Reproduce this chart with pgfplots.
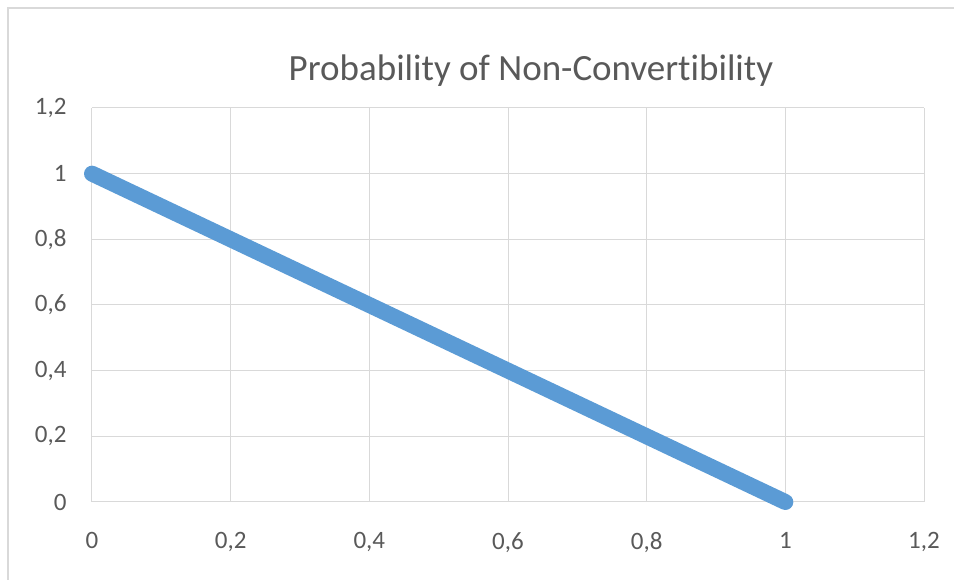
\documentclass[border=0pt]{standalone}
\usepackage{fontspec}
\setmainfont[Ligatures=NoCommon]{Carlito}
\usepackage{pgfplots}
\pgfplotsset{compat=1.18}
\definecolor{xlblue}{HTML}{5B9BD5}
\definecolor{xlgrid}{HTML}{D9D9D9}
\definecolor{xltext}{HTML}{595959}

\begin{document}
\begin{tikzpicture}[x=1pt,y=1pt]
\useasboundingbox (-92,-78) rectangle (862,502);
\draw[xlgrid, line width=1.2pt] (-84,-80) -- (-84,494) -- (864,494);
\node[text=xltext, font=\fontsize{37}{44}\selectfont] at (439,431) {Probability of Non-Convertibility};
\begin{axis}[
    at={(0,0)}, anchor=origin,
    scale only axis,
    width=832pt, height=394pt,
    xmin=0, xmax=1.2, ymin=0, ymax=1.2,
    xtick={0,0.2,0.4,0.6,0.8,1,1.2},
    ytick={0,0.2,0.4,0.6,0.8,1,1.2},
    axis line style={draw=none},
    major tick length=0pt,
    grid=major,
    grid style={xlgrid, line width=1pt},
    tick label style={text=xltext, font=\fontsize{25}{30}\selectfont},
    /pgf/number format/assume math mode=true,
    /pgf/number format/use comma,
    /pgf/number format/fixed,
    xticklabel style={yshift=-27pt},
    yticklabel style={xshift=-22pt},
    clip=false,
]
\addplot[xlblue, line width=16pt, line cap=round, line join=round] coordinates {
    (0,1) (0.2,0.8) (0.4,0.6) (0.6,0.4) (0.8,0.2) (1,0)
};
\end{axis}
\end{tikzpicture}
\end{document}
